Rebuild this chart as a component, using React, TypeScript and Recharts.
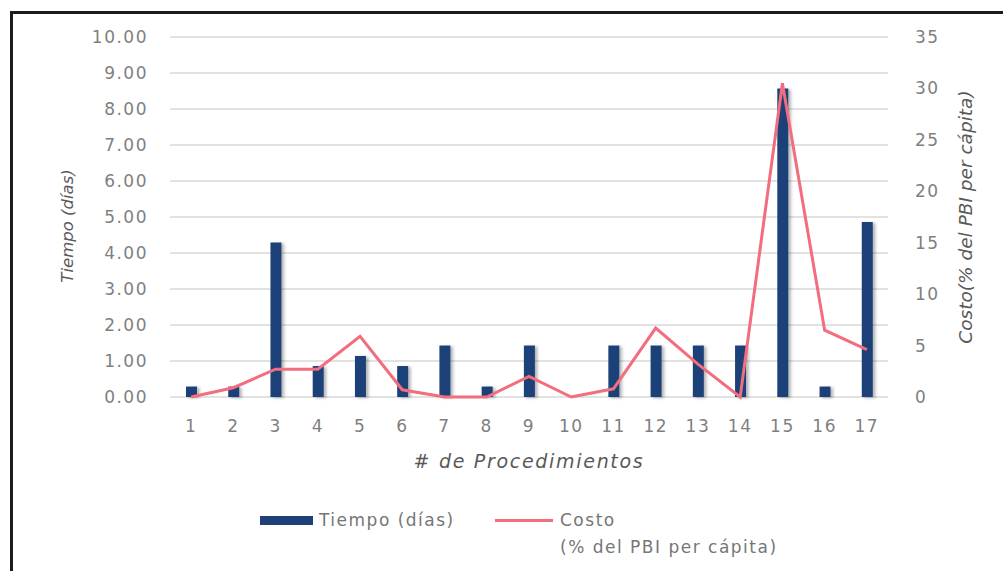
import { ComposedChart, Bar, Line, XAxis, YAxis, CartesianGrid, Legend, Rectangle } from 'recharts';

// Procedures 1..17, time in days (left axis) and cost as % of GDP per capita (right axis)
const procedimientos = ['1', '2', '3', '4', '5', '6', '7', '8', '9', '10', '11', '12', '13', '14', '15', '16', '17'];
const tiempoDias = [0.29, 0.29, 4.29, 0.86, 1.14, 0.86, 1.43, 0.29, 1.43, 0, 1.43, 1.43, 1.43, 1.43, 8.57, 0.29, 4.86];
const costoPbi = [0, 0.9, 2.7, 2.7, 5.9, 0.7, 0, 0, 2.0, 0, 0.8, 6.7, 3.2, 0, 30.5, 6.5, 4.6];

const tiempoTicks = [0, 1, 2, 3, 4, 5, 6, 7, 8, 9, 10];
const costoTicks = [0, 5, 10, 15, 20, 25, 30, 35];

const data = procedimientos.map((p, i) => ({ procedimiento: p, tiempo: tiempoDias[i], costo: costoPbi[i] }));

const NAVY = '#1f3f78';
const PINK = '#f26d7d';
const TICK = { fill: '#7f7f7f', fontSize: 17 };

const ShadowBar = (props: any) => <Rectangle {...props} filter="url(#barShadow)" />;

const LegendBox = () => (
  <div style={{ position: 'relative', width: 560, height: 60, fontFamily: 'DejaVu Sans', fontSize: 17, color: '#767676', letterSpacing: '1.5px', lineHeight: '27px' }}>
    <div style={{ position: 'absolute', left: 10, top: 11, width: 53, height: 9, background: NAVY }} />
    <div style={{ position: 'absolute', left: 69, top: 2 }}>Tiempo (días)</div>
    <div style={{ position: 'absolute', left: 245, top: 14, width: 58, height: 3, background: PINK }} />
    <div style={{ position: 'absolute', left: 310, top: 2 }}>
      <div>Costo</div>
      <div>(% del PBI per cápita)</div>
    </div>
  </div>
);

export default function App() {
  return (
    <div style={{ position: 'absolute', left: 0, top: 0, width: 1003, height: 571, overflow: 'hidden', background: '#fff' }}>
      <style>{`
        .proc-chart text { font-family: 'DejaVu Sans'; }
        .proc-chart .recharts-cartesian-axis-tick-value { letter-spacing: 1.5px; }
        .proc-chart .x-title { letter-spacing: 1.7px; }
      `}</style>
      <div style={{ position: 'absolute', left: 10, top: 11, width: 1100, height: 700, borderLeft: '3px solid #1c1c1c', borderTop: '3px solid #1c1c1c' }} />
      <div className="proc-chart" style={{ position: 'absolute', left: 0, top: 0 }}>
        <ComposedChart width={1003} height={571} data={data} margin={{ top: 37, right: 0, bottom: 46, left: 0 }} barCategoryGap="0%">
          <defs>
            <filter id="barShadow" x="-50%" y="-10%" width="220%" height="130%">
              <feDropShadow dx="2.5" dy="1" stdDeviation="1.5" floodColor="#000" floodOpacity="0.3" />
            </filter>
          </defs>
          <CartesianGrid yAxisId="left" vertical={false} stroke="#d9d9d9" strokeWidth={1.5} />
          <XAxis
            dataKey="procedimiento"
            height={128}
            interval={0}
            axisLine={false}
            tickLine={false}
            tickSize={0}
            tickMargin={23}
            tick={TICK}
            label={{ value: '# de Procedimientos', position: 'center', fontSize: 19, fontStyle: 'italic', fill: '#595959', className: 'x-title' }}
          />
          <YAxis
            yAxisId="left"
            width={170}
            domain={[0, 10]}
            ticks={tiempoTicks}
            tickFormatter={(v: number) => v.toFixed(2)}
            axisLine={false}
            tickLine={false}
            tickSize={0}
            tickMargin={22}
            tick={TICK}
            label={{ value: 'Tiempo (días)', angle: -90, position: 'center', dx: -18, dy: 9, fontSize: 16.5, fontStyle: 'italic', fill: '#595959' }}
          />
          <YAxis
            yAxisId="right"
            orientation="right"
            width={115}
            domain={[0, 35]}
            ticks={costoTicks}
            axisLine={false}
            tickLine={false}
            tickSize={0}
            tickMargin={27}
            tick={TICK}
            label={{ value: 'Costo(% del PBI per cápita)', angle: -90, position: 'center', dx: 20, fontSize: 18.5, fontStyle: 'italic', fill: '#595959' }}
          />
          <Legend
            verticalAlign="middle"
            align="center"
            layout="horizontal"
            wrapperStyle={{ top: 505, left: 250, width: 560, height: 60 }}
            content={() => <LegendBox />}
          />
          <Bar yAxisId="left" dataKey="tiempo" fill={NAVY} barSize={11} shape={ShadowBar} isAnimationActive={false} />
          <Line yAxisId="right" type="linear" dataKey="costo" stroke={PINK} strokeWidth={3} dot={false} activeDot={false} isAnimationActive={false} />
        </ComposedChart>
      </div>
    </div>
  );
}
